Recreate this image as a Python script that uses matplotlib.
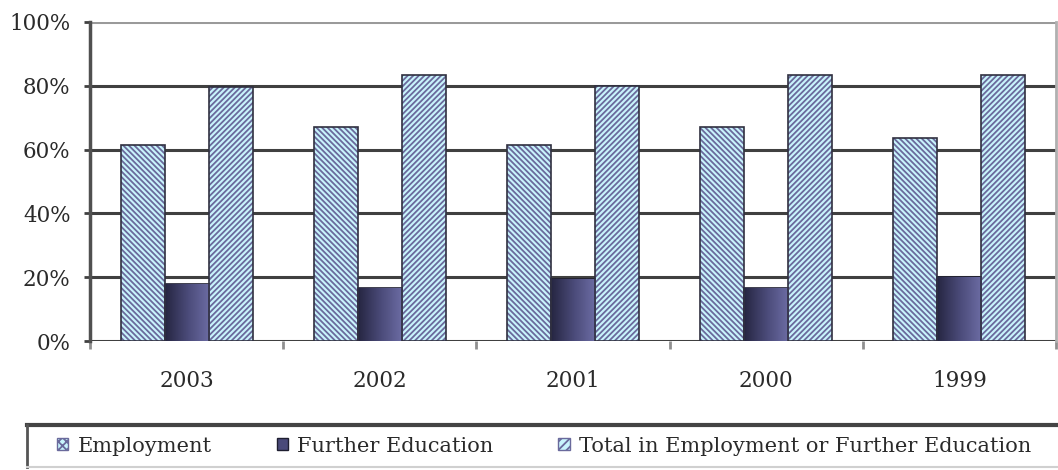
import matplotlib.pyplot as plt
import numpy as np
from matplotlib.patches import Patch
from matplotlib.lines import Line2D
from matplotlib.colors import LinearSegmentedColormap

# Data (percent)
years = ['2003', '2002', '2001', '2000', '1999']
employment = [61.5, 67, 61.5, 67, 63.5]
further_education = [18, 16.5, 19.5, 16.5, 20]
total = [79.5, 83.5, 80, 83.5, 83.5]
y_ticks = [0, 20, 40, 60, 80, 100]

plt.rcParams['font.family'] = ['DejaVu Serif']
plt.rcParams['hatch.linewidth'] = 1.3

text_color = '#2a2a2a'
light_blue = '#c8f4fc'
hatch_color = '#6a6a9c'
edge_color = '#303040'

fig = plt.figure(figsize=(10.58, 4.70), dpi=100)
ax = fig.add_axes([90 / 1058, 1 - 341 / 470, 966 / 1058, 319 / 470])

x = np.arange(len(years))
width = 0.228

# Hatched bars: hatch layer then outline layer
emp_bars = ax.bar(x - width, employment, width, color=light_blue, edgecolor=hatch_color,
                  hatch='\\' * 6, linewidth=0, zorder=3)
ax.bar(x - width, employment, width, facecolor='none', edgecolor=edge_color, linewidth=1.2, zorder=4)
tot_bars = ax.bar(x + width, total, width, color=light_blue, edgecolor=hatch_color,
                  hatch='/' * 6, linewidth=0, zorder=3)
ax.bar(x + width, total, width, facecolor='none', edgecolor=edge_color, linewidth=1.2, zorder=4)

# Further education bars with a left-to-right gradient
fe_bars = ax.bar(x, further_education, width, color='#4a4a7a', edgecolor='#1e1e30',
                 linewidth=1.2, zorder=3)
gradient = np.linspace(0, 1, 64).reshape(1, -1)
fe_cmap = LinearSegmentedColormap.from_list('fe', ['#262642', '#4a4a78', '#6c6ca4'])
for bar in fe_bars:
    x0, y0 = bar.get_x(), bar.get_y()
    im = ax.imshow(gradient, cmap=fe_cmap, aspect='auto', zorder=3.5,
                   extent=[x0, x0 + bar.get_width(), y0, y0 + bar.get_height()])
    im.set_clip_path(bar)

ax.set_xlim(-0.5, len(years) - 0.5)
ax.set_ylim(0, 100)

# Gridlines
for yv in y_ticks[:-1]:
    ax.axhline(yv, color='#404040', linewidth=2.2, zorder=1)
ax.axhline(100, color='#9a9a9a', linewidth=2.2, zorder=1)

for side in ['top', 'bottom']:
    ax.spines[side].set_visible(False)
ax.spines['right'].set_color('#b0b0b0')
ax.spines['right'].set_linewidth(2)
ax.spines['left'].set_color('#505050')
ax.spines['left'].set_linewidth(2.5)

ax.set_yticks(y_ticks)
ax.set_yticklabels([f'{v}%' for v in y_ticks])
ax.tick_params(axis='y', length=4, width=2, color='#404040', pad=10,
               labelsize=15.5, labelcolor=text_color)

ax.set_xticks(x)
ax.set_xticklabels(years)
ax.tick_params(axis='x', length=0, pad=21, labelsize=15.5, labelcolor=text_color)
ax.set_xticks(np.arange(len(years) + 1) - 0.5, minor=True)
ax.tick_params(axis='x', which='minor', length=6, width=2, color='#909090')

# Legend with a box spanning the bottom of the figure
handles = [
    Patch(facecolor=light_blue, edgecolor=hatch_color, hatch='xxxx', linewidth=1),
    Patch(facecolor='#4a4a7a', edgecolor='#1e1e30', linewidth=1),
    Patch(facecolor=light_blue, edgecolor=hatch_color, hatch='////', linewidth=1),
]
labels = ['Employment', 'Further Education', 'Total in Employment or Further Education']
fig.legend(handles, labels, loc='center left', bbox_to_anchor=(57 / 1058, 1 - 446 / 470),
           ncol=3, frameon=False, fontsize=15, handlelength=0.55, handleheight=0.55,
           handletextpad=0.45, columnspacing=3.1, borderpad=0, borderaxespad=0,
           labelcolor=text_color)

box_left, box_top, box_bottom = 27 / 1058, 1 - 425 / 470, 1 - 467 / 470
fig.add_artist(Line2D([box_left, 1], [box_top, box_top], color='#444444', linewidth=3))
fig.add_artist(Line2D([box_left, box_left], [box_bottom, box_top], color='#555555', linewidth=2))
fig.add_artist(Line2D([box_left, 1], [box_bottom, box_bottom], color='#d0d0d0', linewidth=1.5))

fig.savefig('out.png', dpi=100)
